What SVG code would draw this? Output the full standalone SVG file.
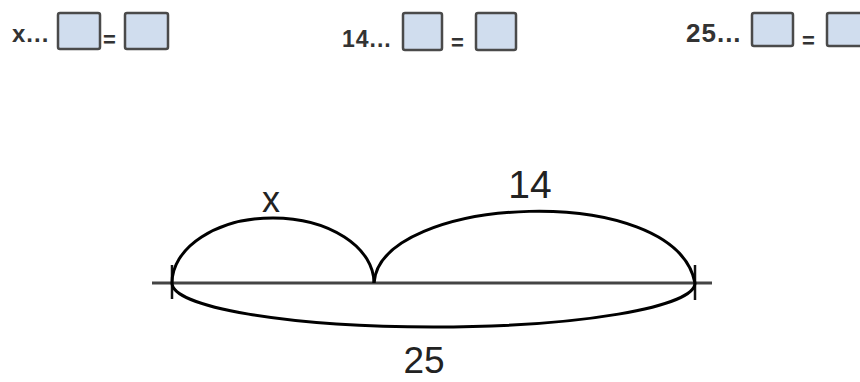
<svg xmlns="http://www.w3.org/2000/svg" width="860" height="382" viewBox="0 0 860 382">
<style>
.t{font-family:"Liberation Sans",Arial,sans-serif;fill:#222}
.b{font-weight:bold;fill:#333}
.box{fill:#d0ddee;stroke:#4a4a4a;stroke-width:2.5}
.arc{fill:none;stroke:#000;stroke-width:3}
.axis{stroke:#444;stroke-width:3}
.tick{stroke:#111;stroke-width:2.5}
</style>
<rect width="860" height="382" fill="#fff"/>
<g id="expr1">
<text class="t b" x="12" y="42" font-size="24" letter-spacing="1">x...</text>
<rect class="box" x="58" y="13" width="42" height="36" rx="2"/>
<text class="t b" x="103" y="47" font-size="22">=</text>
<rect class="box" x="125" y="13" width="43" height="36" rx="2"/>
</g>
<g id="expr2">
<text class="t b" x="342" y="47" font-size="23" letter-spacing="1">14...</text>
<rect class="box" x="403" y="13" width="39" height="37" rx="2"/>
<text class="t b" x="451" y="50" font-size="22">=</text>
<rect class="box" x="476" y="13" width="40" height="37" rx="2"/>
</g>
<g id="expr3">
<text class="t b" x="686" y="42" font-size="26" letter-spacing="1">25...</text>
<rect class="box" x="752" y="13" width="41" height="33" rx="2"/>
<text class="t b" x="802" y="48" font-size="22">=</text>
<rect class="box" x="827" y="13" width="41" height="33" rx="2"/>
</g>
<g id="numberline">
<line class="axis" x1="152" y1="283" x2="712" y2="283"/>
<line class="tick" x1="172" y1="265" x2="172" y2="299"/>
<line class="tick" x1="695" y1="265" x2="695" y2="300"/>
</g>
<g id="connectors">
<path class="arc" d="M172,283 A101,65 0 0 1 374,283"/>
<path class="arc" d="M374,283 C380,195 675,180 695,283"/>
<path class="arc" d="M172,283 A261.5,44 0 0 0 695,283"/>
</g>
<g id="labels">
<text class="t" x="271" y="212" font-size="36" text-anchor="middle">x</text>
<text class="t" x="530" y="198" font-size="39" text-anchor="middle">14</text>
<text class="t" x="424" y="373" font-size="37" text-anchor="middle">25</text>
</g>
</svg>
